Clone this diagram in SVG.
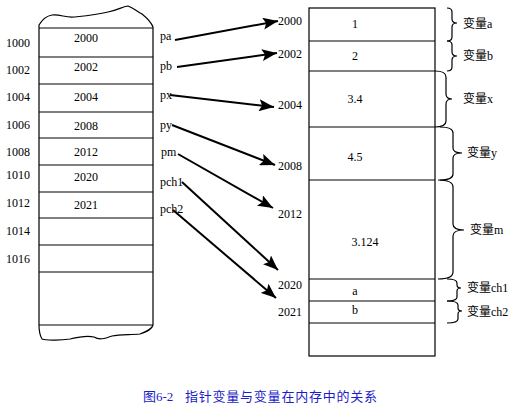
<svg xmlns="http://www.w3.org/2000/svg" width="517" height="410" viewBox="0 0 517 410">
<style>
text{font-family:'Liberation Serif','Times New Roman',serif;font-size:12px;fill:#000}
.cjk{font-family:'Noto Sans CJK SC',sans-serif}
.c{text-anchor:middle}
.r{text-anchor:end}
.box{fill:#fff;stroke:#000;stroke-width:1.2}
.ln{stroke:#000;stroke-width:1.2}
.br{fill:none;stroke:#000;stroke-width:1.2}
.ar{stroke:#000;stroke-width:2;fill:none;marker-end:url(#ah)}
.cap{fill:#1c1cc8;font-size:13px}
</style>
<defs>
<marker id="ah" markerUnits="userSpaceOnUse" markerWidth="16" markerHeight="12" viewBox="0 0 16 12" refX="15" refY="6" orient="auto">
<path d="M0,0 L15,6 L0,12 L3,6 Z" fill="#000"/>
</marker>
</defs>
<g id="left-memory">
<path class="box" d="M39,28 L39,25 C42,20 46,16 52,15 C60,14 66,18 74,17 C84,16 96,15 108,12 C118,10 124,6 128,6 C134,8 138,12 142,14 C147,18 151,22 153,27 L153,325 C152,329 148,331 140,334 C130,335 120,334 112,336 C104,339 99,340 94,337 C86,335 78,337 70,339 C58,341 45,340 42,339 C39,334 39,330 39,325 Z"/>
<line class="ln" x1="39" y1="28" x2="153" y2="28"/>
<line class="ln" x1="39" y1="57" x2="153" y2="57"/>
<line class="ln" x1="39" y1="84" x2="153" y2="84"/>
<line class="ln" x1="39" y1="112" x2="153" y2="112"/>
<line class="ln" x1="39" y1="138" x2="153" y2="138"/>
<line class="ln" x1="39" y1="165" x2="153" y2="165"/>
<line class="ln" x1="39" y1="192" x2="153" y2="192"/>
<line class="ln" x1="39" y1="218" x2="153" y2="218"/>
<line class="ln" x1="39" y1="245" x2="153" y2="245"/>
<line class="ln" x1="39" y1="272" x2="153" y2="272"/>
<line class="ln" x1="39" y1="325" x2="153" y2="325"/>
<text class="c" x="86" y="42">2000</text>
<text class="c" x="86" y="71">2002</text>
<text class="c" x="86" y="101">2004</text>
<text class="c" x="86" y="130">2008</text>
<text class="c" x="86" y="156">2012</text>
<text class="c" x="86" y="181">2020</text>
<text class="c" x="86" y="209">2021</text>
<text x="6" y="47">1000</text>
<text x="6" y="74">1002</text>
<text x="6" y="101">1004</text>
<text x="6" y="129">1006</text>
<text x="6" y="156">1008</text>
<text x="6" y="179">1010</text>
<text x="6" y="207">1012</text>
<text x="6" y="235">1014</text>
<text x="6" y="263">1016</text>
</g>
<g id="pointer-labels">
<text x="160" y="40">pa</text>
<text x="160" y="70">pb</text>
<text x="160" y="99">px</text>
<text x="160" y="129">py</text>
<text x="161" y="156">pm</text>
<text x="160" y="186">pch1</text>
<text x="160" y="213">pch2</text>
</g>
<g id="connectors">
<line class="ar" x1="175" y1="40" x2="278" y2="21"/>
<line class="ar" x1="177" y1="67" x2="277" y2="53"/>
<line class="ar" x1="170" y1="95" x2="274" y2="107"/>
<line class="ar" x1="172" y1="125" x2="275" y2="165"/>
<line class="ar" x1="178" y1="154" x2="273" y2="208"/>
<line class="ar" x1="182" y1="182" x2="278" y2="270"/>
<line class="ar" x1="173" y1="210" x2="276" y2="298"/>
</g>
<g id="right-memory">
<rect class="box" x="309" y="8" width="126" height="348"/>
<line class="ln" x1="309" y1="41" x2="435" y2="41"/>
<line class="ln" x1="309" y1="71" x2="435" y2="71"/>
<line class="ln" x1="309" y1="127" x2="435" y2="127"/>
<line class="ln" x1="309" y1="180" x2="435" y2="180"/>
<line class="ln" x1="309" y1="279" x2="435" y2="279"/>
<line class="ln" x1="309" y1="301" x2="435" y2="301"/>
<line class="ln" x1="309" y1="323" x2="435" y2="323"/>
<text class="c" x="355" y="28">1</text>
<text class="c" x="355" y="60">2</text>
<text class="c" x="355" y="103">3.4</text>
<text class="c" x="355" y="161">4.5</text>
<text class="c" x="365" y="246">3.124</text>
<text class="c" x="355" y="295">a</text>
<text class="c" x="355" y="314">b</text>
<text class="r" x="302" y="25">2000</text>
<text class="r" x="302" y="58">2002</text>
<text class="r" x="302" y="109">2004</text>
<text class="r" x="302" y="170">2008</text>
<text class="r" x="302" y="218">2012</text>
<text class="r" x="302" y="289">2020</text>
<text class="r" x="302" y="316">2021</text>
</g>
<g id="var-a">
<path class="br" d="M447,8 Q452,8 452,12 L452,19 Q452,23 457,23 Q452,23 452,27 L452,37 Q452,41 447,41"/>
<text x="463" y="28"><tspan class="cjk">变量</tspan>a</text>
</g>
<g id="var-b">
<path class="br" d="M447,41 Q452,41 452,45 L452,52 Q452,56 457,56 Q452,56 452,60 L452,67 Q452,71 447,71"/>
<text x="463" y="60"><tspan class="cjk">变量</tspan>b</text>
</g>
<g id="var-x">
<path class="br" d="M435,71 Q446,71 446,77 L446,94 Q446,99 452,99 Q446,99 446,104 L446,121 Q446,127 435,127"/>
<text x="463" y="103"><tspan class="cjk">变量</tspan>x</text>
</g>
<g id="var-y">
<path class="br" d="M440,127 Q453,127 453,133 L453,148 Q453,153 462,153 Q453,153 453,158 L453,174 Q453,180 440,180"/>
<text x="467" y="157"><tspan class="cjk">变量</tspan>y</text>
</g>
<g id="var-m">
<path class="br" d="M438,180 Q453,180 453,187 L453,224 Q453,230 464,230 Q453,230 453,236 L453,272 Q453,279 438,279"/>
<text x="470" y="234"><tspan class="cjk">变量</tspan>m</text>
</g>
<g id="var-ch1">
<path class="br" d="M447,279 Q457,279 457,283 L457,285 Q457,288 461,288 Q457,288 457,291 L457,297 Q457,301 447,301"/>
<text x="467" y="292"><tspan class="cjk">变量</tspan>ch1</text>
</g>
<g id="var-ch2">
<path class="br" d="M447,301 Q458,301 458,305 L458,308 Q458,311 462,311 Q458,311 458,314 L458,319 Q458,323 447,323"/>
<text x="467" y="316"><tspan class="cjk">变量</tspan>ch2</text>
</g>
<g id="caption">
<text class="cap" x="143" y="401"><tspan class="cjk">图</tspan>6-2</text>
<text class="cap cjk" x="185" y="401" textLength="192" lengthAdjust="spacing">指针变量与变量在内存中的关系</text>
</g>
</svg>
